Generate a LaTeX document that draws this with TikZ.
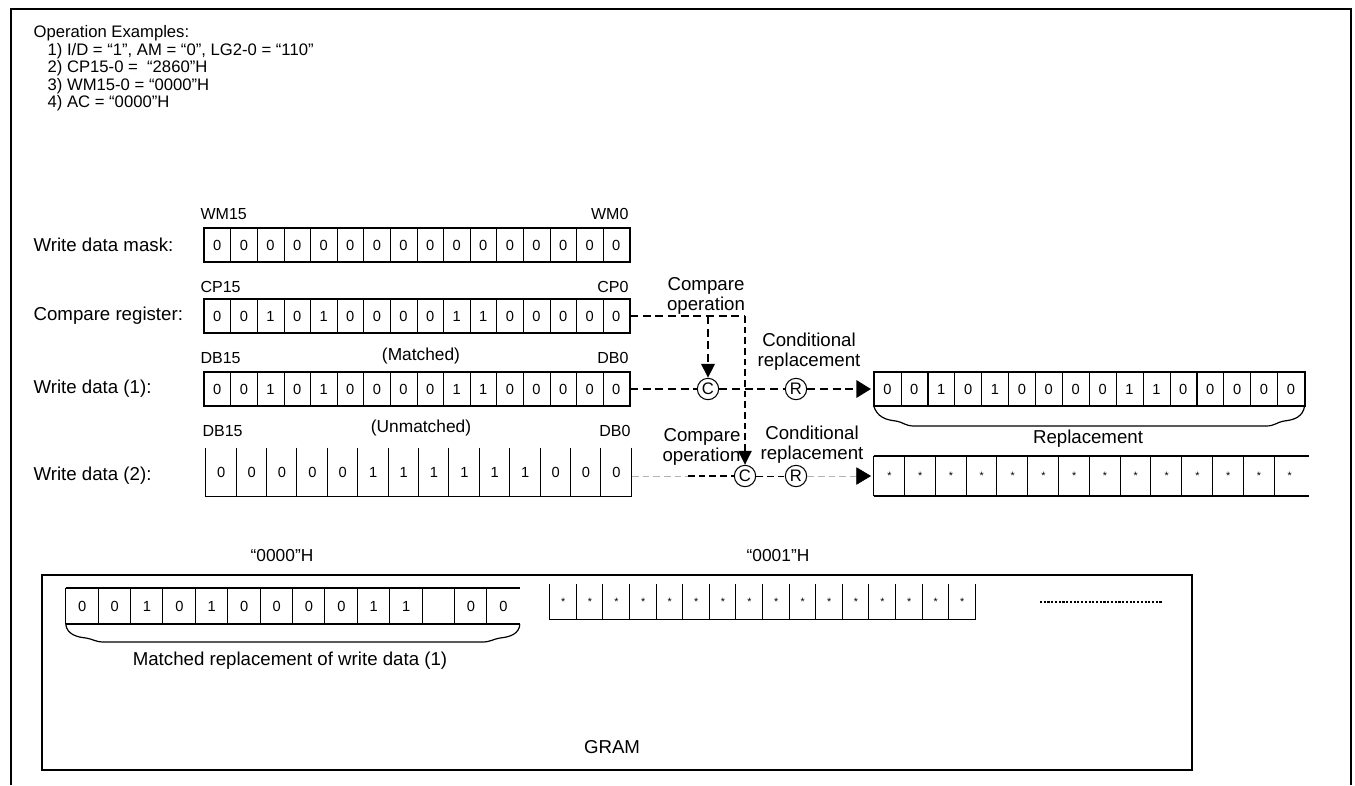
\documentclass[tikz,border=0pt]{standalone}
\usepackage{fontspec}
\setmainfont{Liberation Sans}
\usetikzlibrary{arrows.meta}

\begin{document}
\begin{tikzpicture}[x=0.75pt, y=-0.75pt,
        every node/.style={font=\fontsize{14}{15}\selectfont, inner sep=1pt},
        cell/.style={minimum width=19.95pt, minimum height=24.75pt, inner sep=0pt, font=\fontsize{11}{12}\selectfont},
        bitlbl/.style={font=\fontsize{12}{13}\selectfont},
        listlbl/.style={anchor=west, font=\fontsize{12.5}{13}\selectfont},
        regline/.style={line width=1.4pt},
        circ/.style={draw, circle, line width=0.8pt, minimum size=16pt, inner sep=0pt, font=\fontsize{12.5}{12.5}\selectfont},
        dashthick/.style={line width=1.8pt, dash pattern=on 6pt off 3.5pt},
        dashmed/.style={line width=1pt, dash pattern=on 5pt off 3pt},
        dashgray/.style={line width=0.5pt, gray!60, dash pattern=on 5pt off 3pt},
        bigtip/.style={-{Triangle[length=11pt, width=13pt, color=black, fill=black]}},
        downtip/.style={-{Triangle[length=10.5pt, width=10pt, color=black, fill=black]}}]
    \useasboundingbox (0,0) rectangle (1355,785);
    \draw[line width=2.2pt] (11,785) -- (11,9) -- (1351,9) -- (1351,785);

    % settings
    \node[listlbl] (ops) at (32,33) {Operation Examples:};
    \node[listlbl] (op1) at (46,51) {1) I/D = “1”, AM = “0”, LG2-0 = “110”};
    \node[listlbl] (op2) at (46,68.5) {2) CP15-0 = \ “2860”H};
    \node[listlbl] (op3) at (46,86) {3) WM15-0 = “0000”H};
    \node[listlbl] (op4) at (46,103.5) {4) AC = “0000”H};

    \node[anchor=west] (lwm) at (32,245) {Write data mask:};
    \node[anchor=west] (lcp) at (32,316) {Compare register:};
    \node[anchor=west] (ldb1) at (32,389) {Write data (1):};
    \node[anchor=west] (ldb2) at (32,476) {Write data (2):};

    % registers
    \node[bitlbl, anchor=west] (wmhi) at (199,214) {WM15};
    \node[bitlbl, anchor=east] (wmlo) at (630,214) {WM0};
    \foreach \b [count=\i from 0] in {0,0,0,0,0,0,0,0,0,0,0,0,0,0,0,0}
        \node[cell, draw] (wm\i) at ({217.3+26.6*\i},245) {\b};
    \draw[regline] (wm0.north west) rectangle (wm15.south east);

    \node[bitlbl, anchor=west] (cphi) at (199,287) {CP15};
    \node[bitlbl, anchor=east] (cplo) at (630,287) {CP0};
    \foreach \b [count=\i from 0] in {0,0,1,0,1,0,0,0,0,1,1,0,0,0,0,0}
        \node[cell, draw] (cp\i) at ({217.3+26.6*\i},316) {\b};
    \draw[regline] (cp0.north west) rectangle (cp15.south east);

    \node[bitlbl, anchor=west] (dbhi) at (199,358) {DB15};
    \node[bitlbl, anchor=east] (dblo) at (630,358) {DB0};
    \node[font=\fontsize{13}{14}\selectfont] (match) at (421,356) {(Matched)};
    \foreach \b [count=\i from 0] in {0,0,1,0,1,0,0,0,0,1,1,0,0,0,0,0}
        \node[cell, draw] (db\i) at ({217.3+26.6*\i},389) {\b};
    \draw[regline] (db0.north west) rectangle (db15.south east);

    \node[bitlbl, anchor=west] (dbbhi) at (201,431) {DB15};
    \node[bitlbl, anchor=east] (dbblo) at (632,431) {DB0};
    \node[font=\fontsize{13}{14}\selectfont] (nomatch) at (421,428) {(Unmatched)};
    \foreach \b [count=\i from 0] in {0,0,0,0,0,1,1,1,1,1,1,0,0,0} {
        \node[cell, minimum width=22.8pt, minimum height=36pt] (dbb\i) at ({221.2+30.4*\i},472) {\b};
        \draw[line width=0.8pt] (dbb\i.north west) -- (dbb\i.south west) -- (dbb\i.south east);
    }
    \draw[line width=0.8pt] (dbb13.north east) -- (dbb13.south east);

    % results
    \foreach \b [count=\i from 0] in {0,0,1,0,1,0,0,0,0,1,1,0,0,0,0,0}
        \node[cell, draw, minimum width=20.2pt] (rep\i) at ({887.4+26.9*\i},389) {\b};
    \draw[regline] (rep0.north west) rectangle (rep15.south east);
    \draw[line width=0.9pt] (rep0.south west) .. controls (877,417) and (886,420) .. (896,421)
        .. controls (903,422) and (905,426) .. (914,426) -- (1266,426)
        .. controls (1275,426) and (1277,422) .. (1284,421)
        .. controls (1294,420) and (1303,417) .. (rep15.south east);
    \node (replbl) at (1088,439) {Replacement};

    \foreach \i in {0,...,13} {
        \node[cell, minimum width=23.1pt, minimum height=30pt, font=\fontsize{8}{8}\selectfont] (st\i) at ({889.4+30.8*\i},476) {*};
        \draw[line width=0.8pt] (st\i.north west) -- (st\i.south west);
    }
    \draw[regline] (st0.north west) -- ([xshift=3pt]st13.north east);
    \draw[regline] (st0.south west) -- ([xshift=3pt]st13.south east);

    % compare and replace
    \node[circ] (c1) at (708,389) {C};
    \node[circ] (r1) at (796,389) {R};
    \node[circ] (c2) at (745,476) {C};
    \node[circ] (r2) at (796,476) {R};
    \coordinate (split) at (708,316);
    \coordinate (turn) at (745,316);
    \coordinate (fade) at (688,476);

    \node[align=center] (cmp1) at (706,296) {Compare\\operation};
    \node[align=center] (cnd1) at (809,352) {Conditional\\replacement};
    \node[align=right, anchor=east] (cmp2) at (742,447) {Compare\\operation};
    \node[align=center] (cnd2) at (812,445) {Conditional\\replacement};

    \draw[dashthick] (cp15.east) -- (turn);
    \draw[dashthick, downtip] (split) -- (c1);
    \draw[dashmed, downtip] (turn) -- (c2);
    \draw[dashthick] (db15.east) -- (c1);
    \draw[dashthick] (c1) -- (r1);
    \draw[dashthick, bigtip, shorten >=2pt] (r1) -- (rep0.west);
    \draw[dashgray] (dbb13.east |- c2) -- (fade);
    \draw[dashmed, line width=0.8pt] (fade) -- (c2);
    \draw[dashmed, line width=0.6pt] (c2) -- (r2);
    \draw[dashgray, bigtip, shorten >=2pt] (r2) -- (st0.west);

    % GRAM
    \node[draw, line width=1.2pt, minimum width=862.5pt, minimum height=146.25pt, inner sep=0pt] (gram) at (617,672.5) {};
    \node (gramlbl) at (612,747) {GRAM};
    \node[font=\fontsize{13}{14}\selectfont] (addr0) at (282,556) {“0000”H};
    \node[font=\fontsize{13}{14}\selectfont] (addr1) at (778,556) {“0001”H};

    \foreach \b [count=\i from 0] in {0,0,1,0,1,0,0,0,0,1,1,{},0,0} {
        \node[cell, minimum width=24.3pt, minimum height=27pt] (gm\i) at ({82.2+32.4*\i},606) {\b};
        \draw[line width=0.8pt] (gm\i.north west) -- (gm\i.south west);
    }
    \draw[regline] (gm0.north west) -- (gm13.north east);
    \draw[regline] (gm0.south west) -- (gm13.south east);
    \draw[line width=0.9pt] (gm0.south west) .. controls (67,634) and (76,637) .. (86,638)
        .. controls (93,639) and (95,642) .. (104,642) -- (482,642)
        .. controls (491,642) and (493,639) .. (500,638)
        .. controls (510,637) and (519,634) .. (gm13.south east);
    \node (gmlbl) at (290,661) {Matched replacement of write data (1)};

    \foreach \i in {0,...,15} {
        \node[cell, minimum height=26.25pt, font=\fontsize{8}{8}\selectfont] (gs\i) at ({563.3+26.6*\i},602) {*};
        \draw[line width=0.8pt] (gs\i.north west) -- (gs\i.south west) -- (gs\i.south east);
    }
    \draw[line width=0.8pt] (gs15.north east) -- (gs15.south east);
    \draw[line width=1.6pt, dash pattern=on 1.6pt off 1.2pt] (1040,602) -- (1162,602);
\end{tikzpicture}
\end{document}
